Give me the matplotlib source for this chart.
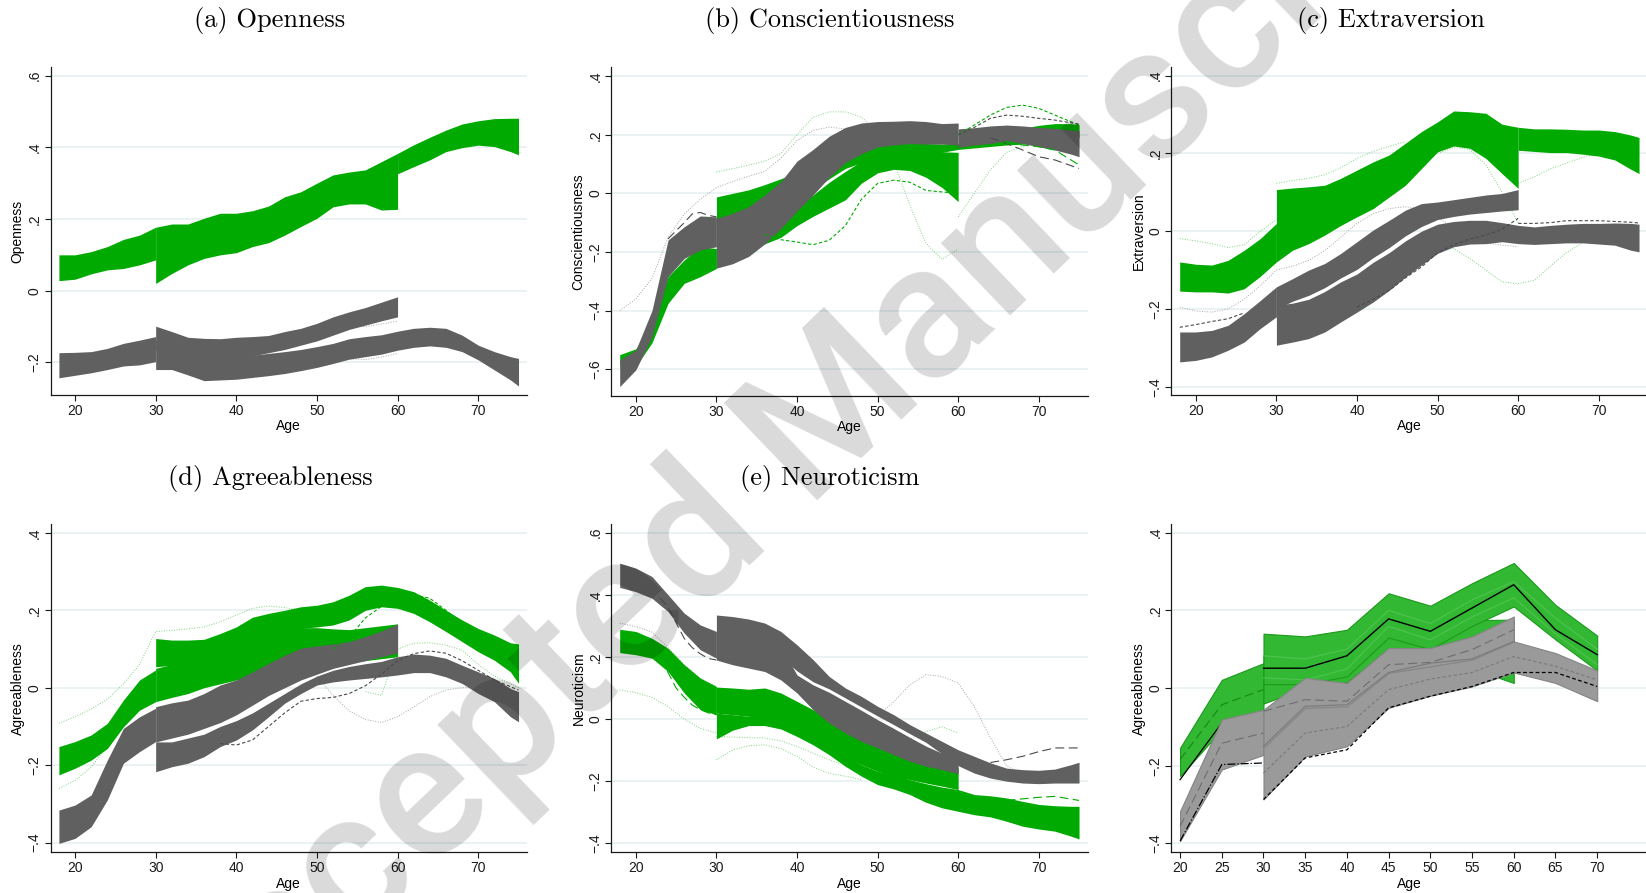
import matplotlib.pyplot as plt

# ---- age grids -------------------------------------------------------------
AGE_Y = [18, 20, 22, 24, 26, 28, 30]
AGE_M = [30, 32, 34, 36, 38, 40, 42, 44, 46, 48, 50, 52, 54, 56, 58, 60]
AGE_O = [60, 62, 64, 66, 68, 70, 72, 74, 75]
AGE_L = AGE_M + AGE_O[1:]

# ---- (a) Openness ----------------------------------------------------------
opn_green_y_hi = [0.100, 0.100, 0.109, 0.123, 0.143, 0.155, 0.177]
opn_green_y_lo = [0.028, 0.032, 0.047, 0.058, 0.062, 0.072, 0.086]
opn_green_m_hi = [0.177, 0.186, 0.186, 0.202, 0.216, 0.216, 0.223, 0.236, 0.262, 0.276, 0.300, 0.323, 0.331, 0.337, 0.360, 0.383]
opn_green_m_lo = [0.020, 0.048, 0.072, 0.090, 0.100, 0.106, 0.123, 0.134, 0.155, 0.179, 0.202, 0.234, 0.242, 0.242, 0.225, 0.227]
opn_green_o_hi = [0.383, 0.407, 0.428, 0.448, 0.465, 0.474, 0.480, 0.481, 0.481]
opn_green_o_lo = [0.326, 0.346, 0.365, 0.388, 0.399, 0.406, 0.402, 0.388, 0.379]
opn_gray_y_hi = [-0.173, -0.172, -0.170, -0.161, -0.147, -0.138, -0.128]
opn_gray_y_lo = [-0.243, -0.236, -0.229, -0.220, -0.210, -0.207, -0.198]
opn_gray_m_hi = [-0.099, -0.114, -0.130, -0.133, -0.134, -0.130, -0.128, -0.125, -0.114, -0.105, -0.091, -0.073, -0.059, -0.047, -0.032, -0.017]
opn_gray_m_lo = [-0.166, -0.180, -0.189, -0.193, -0.193, -0.189, -0.182, -0.173, -0.164, -0.152, -0.140, -0.124, -0.108, -0.096, -0.084, -0.073]
opn_gray_l_hi = [-0.138, -0.161, -0.180, -0.189, -0.189, -0.184, -0.180, -0.175, -0.170, -0.164, -0.156, -0.147, -0.134, -0.128, -0.123, -0.113,
                 -0.105, -0.102, -0.105, -0.124, -0.152, -0.170, -0.184, -0.189]
opn_gray_l_lo = [-0.220, -0.220, -0.235, -0.251, -0.249, -0.247, -0.242, -0.237, -0.231, -0.223, -0.214, -0.203, -0.191, -0.184, -0.177, -0.166,
                 -0.158, -0.154, -0.158, -0.170, -0.193, -0.221, -0.249, -0.266]
opn_dot_age = [52, 54, 56, 58, 60]
opn_dot_1 = [-0.095, -0.100, -0.100, -0.093, -0.085]
opn_dot_2 = [-0.185, -0.190, -0.192, -0.185, -0.175]

# ---- (b) Conscientiousness -------------------------------------------------
con_green_y_hi = [-0.550, -0.530, -0.440, -0.284, -0.227, -0.182, -0.188]
con_green_y_lo = [-0.585, -0.590, -0.510, -0.375, -0.307, -0.284, -0.256]
con_gray_y_hi = [-0.568, -0.534, -0.400, -0.159, -0.114, -0.077, -0.080]
con_gray_y_lo = [-0.659, -0.602, -0.489, -0.284, -0.222, -0.193, -0.182]
con_green_m_hi = [-0.130, -0.120, -0.110, -0.090, -0.070, -0.045, -0.005, 0.038, 0.075, 0.110, 0.130, 0.140, 0.145, 0.145, 0.142, 0.140]
con_green_m_lo = [-0.220, -0.200, -0.185, -0.172, -0.150, -0.110, -0.078, -0.050, -0.022, 0.035, 0.070, 0.082, 0.078, 0.055, 0.020, -0.028]
con_green_l_hi = [-0.012, 0.000, 0.012, 0.030, 0.050, 0.072, 0.098, 0.115, 0.130, 0.158, 0.170, 0.173, 0.172, 0.170, 0.168, 0.170,
                  0.178, 0.185, 0.205, 0.222, 0.232, 0.238, 0.238, 0.235]
con_green_l_lo = [-0.107, -0.090, -0.075, -0.058, -0.040, -0.015, 0.012, 0.050, 0.085, 0.105, 0.115, 0.125, 0.130, 0.135, 0.140, 0.150,
                  0.155, 0.160, 0.165, 0.168, 0.170, 0.172, 0.175, 0.190]
con_gray_m_hi = [-0.085, -0.068, -0.045, -0.005, 0.040, 0.110, 0.150, 0.195, 0.225, 0.240, 0.245, 0.246, 0.248, 0.245, 0.238, 0.240]
con_gray_m_lo = [-0.255, -0.240, -0.215, -0.172, -0.120, -0.060, -0.005, 0.055, 0.105, 0.135, 0.158, 0.165, 0.170, 0.168, 0.168, 0.165]
con_gray_o_hi = [0.220, 0.224, 0.230, 0.233, 0.230, 0.225, 0.222, 0.216, 0.214]
con_gray_o_lo = [0.157, 0.165, 0.170, 0.180, 0.170, 0.159, 0.148, 0.134, 0.125]
con_kdot_age = [18, 20, 22, 24, 26, 28, 30, 33, 36, 38, 40, 42, 44, 46, 48]
con_kdot = [-0.400, -0.360, -0.290, -0.150, -0.070, -0.020, 0.020, 0.050, 0.075, 0.120, 0.180, 0.215, 0.226, 0.220, 0.200]
con_gdot_age = [30, 33, 36, 38, 40, 42, 44, 46, 48, 50, 52, 54, 56, 58, 60]
con_gdot = [0.073, 0.090, 0.110, 0.136, 0.200, 0.260, 0.278, 0.278, 0.260, 0.210, 0.110, -0.040, -0.170, -0.225, -0.190]
con_gdot2_age = [60, 62, 64, 66, 68, 70, 72, 75]
con_gdot2 = [-0.080, 0.000, 0.080, 0.140, 0.160, 0.170, 0.170, 0.160]
con_gdash_age = [36, 38, 40, 42, 44, 46, 48, 50, 52, 54, 56, 58, 60]
con_gdash = [-0.140, -0.158, -0.166, -0.175, -0.160, -0.110, -0.020, 0.034, 0.045, 0.038, 0.010, 0.005, 0.000]
con_gdash2_age = [60, 62, 64, 66, 68, 70, 72, 75]
con_gdash2 = [0.200, 0.233, 0.267, 0.293, 0.301, 0.290, 0.267, 0.233]
con_kdash2 = [0.200, 0.225, 0.256, 0.267, 0.263, 0.256, 0.250, 0.236]
con_klong_age = [64, 66, 68, 70, 72, 75]
con_klong = [0.190, 0.170, 0.148, 0.125, 0.114, 0.085]
con_glong_age = [66, 68, 70, 72, 75]
con_glong = [0.170, 0.165, 0.159, 0.148, 0.097]
con_klong0_age = [24, 26, 27, 28, 29, 30]
con_klong0 = [-0.155, -0.100, -0.070, -0.065, -0.075, -0.080]

# ---- (c) Extraversion ------------------------------------------------------
ext_green_y_hi = [-0.079, -0.085, -0.087, -0.075, -0.049, -0.019, 0.020]
ext_green_y_lo = [-0.154, -0.156, -0.156, -0.159, -0.148, -0.116, -0.079]
ext_green_m_hi = [0.107, 0.111, 0.114, 0.118, 0.136, 0.157, 0.178, 0.196, 0.226, 0.256, 0.281, 0.309, 0.307, 0.303, 0.275, 0.267]
ext_green_m_lo = [-0.079, -0.049, -0.032, -0.010, 0.015, 0.037, 0.058, 0.088, 0.118, 0.161, 0.204, 0.219, 0.213, 0.187, 0.148, 0.110]
ext_green_o_hi = [0.267, 0.263, 0.263, 0.262, 0.260, 0.260, 0.256, 0.247, 0.241]
ext_green_o_lo = [0.208, 0.205, 0.202, 0.202, 0.198, 0.193, 0.183, 0.159, 0.148]
ext_gray_y_hi = [-0.259, -0.259, -0.255, -0.242, -0.212, -0.178, -0.143]
ext_gray_y_lo = [-0.336, -0.332, -0.323, -0.306, -0.285, -0.250, -0.220]
ext_gray_m_hi = [-0.143, -0.122, -0.100, -0.083, -0.057, -0.027, 0.003, 0.028, 0.054, 0.071, 0.075, 0.081, 0.087, 0.093, 0.097, 0.107]
ext_gray_m_lo = [-0.200, -0.180, -0.165, -0.145, -0.120, -0.098, -0.068, -0.042, -0.012, 0.012, 0.030, 0.038, 0.044, 0.048, 0.052, 0.055]
ext_gray_l_hi = [-0.190, -0.185, -0.175, -0.155, -0.130, -0.110, -0.080, -0.055, -0.025, 0.000, 0.018, 0.025, 0.028, 0.028, 0.022, 0.015,
                 0.011, 0.015, 0.018, 0.020, 0.020, 0.021, 0.020, 0.018]
ext_gray_l_lo = [-0.293, -0.285, -0.276, -0.259, -0.233, -0.208, -0.182, -0.152, -0.118, -0.087, -0.057, -0.040, -0.033, -0.032, -0.027, -0.032,
                 -0.034, -0.032, -0.030, -0.030, -0.033, -0.036, -0.049, -0.053]
ext_gdot_y = [-0.019, -0.025, -0.032, -0.042, -0.035, 0.000, 0.030]
ext_gdot_m_age = [30, 32, 34, 36, 38, 40, 42, 44, 46]
ext_gdot_m = [0.123, 0.130, 0.136, 0.145, 0.163, 0.187, 0.205, 0.218, 0.230]
ext_gdot_drop_age = [50, 52, 54, 56, 58, 60]
ext_gdot_drop = [0.200, 0.215, 0.210, 0.170, 0.100, 0.020]
ext_gdot_o = [0.123, 0.140, 0.160, 0.175, 0.190, 0.200, 0.205, 0.203, 0.200]
ext_gdot_dip_age = [50, 52, 54, 56, 58, 60, 62, 64, 66, 68, 70]
ext_gdot_dip = [-0.020, -0.045, -0.070, -0.100, -0.130, -0.135, -0.126, -0.090, -0.055, -0.030, -0.019]
ext_kdot_y = [-0.195, -0.205, -0.208, -0.200, -0.175, -0.140, -0.100]
ext_kdot_m = [-0.100, -0.090, -0.075, -0.050, -0.015, 0.020, 0.045, 0.058, 0.063, 0.055, 0.035, 0.010, -0.015, -0.030, -0.036, -0.040]
ext_kdash_y_age = [18, 20, 22, 24, 26]
ext_kdash_y = [-0.247, -0.240, -0.232, -0.225, -0.210]
ext_kdash_m_age = [40, 42, 44, 46, 48, 50, 52, 54, 56, 58, 60]
ext_kdash_m = [-0.195, -0.175, -0.152, -0.120, -0.092, -0.055, -0.035, -0.020, -0.010, 0.005, 0.033]
ext_kdash_o = [0.020, 0.020, 0.022, 0.027, 0.027, 0.027, 0.025, 0.023, 0.021]

# ---- (d) Agreeableness -----------------------------------------------------
agr_green_y_hi = [-0.152, -0.139, -0.122, -0.092, -0.032, 0.020, 0.046]
agr_green_y_lo = [-0.225, -0.208, -0.187, -0.157, -0.101, -0.058, -0.036]
agr_green_l_hi = [0.127, 0.123, 0.123, 0.125, 0.140, 0.157, 0.182, 0.192, 0.200, 0.209, 0.213, 0.222, 0.239, 0.261, 0.265, 0.259,
                  0.248, 0.226, 0.200, 0.175, 0.153, 0.136, 0.116, 0.113]
agr_green_l_lo = [0.054, 0.058, 0.067, 0.076, 0.089, 0.102, 0.119, 0.132, 0.145, 0.153, 0.157, 0.162, 0.175, 0.200, 0.209, 0.205,
                  0.192, 0.170, 0.145, 0.119, 0.093, 0.071, 0.041, 0.011]
agr_green_m_hi = [0.050, 0.060, 0.070, 0.085, 0.100, 0.115, 0.130, 0.140, 0.150, 0.155, 0.155, 0.152, 0.150, 0.155, 0.160, 0.165]
agr_green_m_lo = [-0.036, -0.025, -0.015, 0.000, 0.010, 0.020, 0.030, 0.040, 0.050, 0.055, 0.060, 0.062, 0.065, 0.070, 0.075, 0.080]
agr_gray_y_hi = [-0.316, -0.303, -0.277, -0.187, -0.105, -0.075, -0.053]
agr_gray_y_lo = [-0.402, -0.389, -0.359, -0.290, -0.195, -0.165, -0.139]
agr_gray_m_hi = [-0.049, -0.039, -0.032, -0.015, 0.007, 0.020, 0.041, 0.063, 0.084, 0.102, 0.108, 0.113, 0.119, 0.132, 0.147, 0.164]
agr_gray_m_lo = [-0.140, -0.130, -0.120, -0.105, -0.090, -0.070, -0.045, -0.020, 0.000, 0.020, 0.035, 0.050, 0.060, 0.070, 0.080, 0.090]
agr_gray_l_hi = [-0.140, -0.140, -0.130, -0.120, -0.100, -0.085, -0.065, -0.040, -0.015, 0.010, 0.030, 0.045, 0.055, 0.062, 0.068, 0.080,
                 0.087, 0.084, 0.076, 0.058, 0.041, 0.024, -0.002, -0.010]
agr_gray_l_lo = [-0.217, -0.204, -0.195, -0.178, -0.152, -0.135, -0.109, -0.075, -0.040, -0.015, 0.007, 0.015, 0.020, 0.024, 0.028, 0.033,
                 0.039, 0.039, 0.028, 0.011, -0.015, -0.036, -0.075, -0.088]
agr_gdot_up_age = [18, 20, 22, 24, 26, 28, 30, 32, 34, 36, 38, 40, 42, 44, 46, 48]
agr_gdot_up = [-0.092, -0.075, -0.055, -0.030, 0.010, 0.060, 0.145, 0.148, 0.152, 0.157, 0.170, 0.188, 0.205, 0.211, 0.207, 0.200]
agr_gdot_lo_age = [18, 20, 22, 24]
agr_gdot_lo = [-0.260, -0.240, -0.205, -0.150]
agr_gdash_age = [52, 54, 56, 58, 60, 62, 64, 66, 68, 70, 72]
agr_gdash = [0.100, 0.130, 0.180, 0.210, 0.225, 0.240, 0.231, 0.200, 0.165, 0.140, 0.110]
agr_kdash_age = [38, 40, 42, 44, 46, 48, 50, 52, 54, 56, 58, 60, 62, 64, 66, 68, 70, 72, 75]
agr_kdash = [-0.144, -0.148, -0.135, -0.100, -0.065, -0.035, -0.028, -0.025, -0.015, 0.005, 0.035, 0.070, 0.088, 0.095, 0.089, 0.070, 0.045, 0.020, -0.006]
agr_kdot_age = [50, 52, 54, 56, 58, 60, 62, 64, 66, 68, 70, 72, 75]
agr_kdot = [0.030, -0.020, -0.060, -0.082, -0.090, -0.075, -0.050, -0.023, -0.006, 0.000, 0.003, -0.012, -0.020]
agr_gdot_o_age = [56, 58, 60, 62, 64, 66, 68, 70, 72, 75]
agr_gdot_o = [-0.010, -0.020, 0.100, 0.115, 0.116, 0.110, 0.097, 0.060, 0.030, 0.000]

# ---- (e) Neuroticism -------------------------------------------------------
neu_gray_y_hi = [0.502, 0.486, 0.459, 0.400, 0.341, 0.303, 0.282]
neu_gray_y_lo = [0.424, 0.410, 0.389, 0.346, 0.277, 0.223, 0.196]
neu_gray_l_hi = [0.335, 0.330, 0.322, 0.309, 0.282, 0.239, 0.191, 0.137, 0.100, 0.073, 0.041, 0.014, -0.018, -0.045, -0.072, -0.099,
                 -0.120, -0.141, -0.158, -0.163, -0.165, -0.161, -0.147, -0.139]
neu_gray_l_lo = [0.255, 0.250, 0.245, 0.234, 0.200, 0.155, 0.120, 0.097, 0.068, 0.039, 0.010, -0.018, -0.047, -0.075, -0.112, -0.150,
                 -0.174, -0.190, -0.200, -0.206, -0.208, -0.206, -0.206, -0.206]
neu_gray_m_hi = [0.280, 0.277, 0.266, 0.255, 0.234, 0.142, 0.110, 0.086, 0.057, 0.028, -0.002, -0.030, -0.059, -0.087, -0.110, -0.130]
neu_gray_m_lo = [0.190, 0.175, 0.164, 0.153, 0.126, 0.084, 0.030, -0.013, -0.045, -0.072, -0.093, -0.115, -0.136, -0.152, -0.163, -0.176]
neu_green_y_hi = [0.289, 0.282, 0.260, 0.228, 0.175, 0.132, 0.105]
neu_green_y_lo = [0.214, 0.207, 0.196, 0.153, 0.084, 0.030, 0.014]
neu_green_m_hi = [0.103, 0.100, 0.096, 0.100, 0.084, 0.057, 0.030, 0.003, -0.024, -0.056, -0.088, -0.104, -0.115, -0.125, -0.141, -0.157]
neu_green_m_lo = [0.019, 0.014, 0.009, 0.000, -0.013, -0.040, -0.066, -0.093, -0.120, -0.147, -0.168, -0.184, -0.195, -0.206, -0.216, -0.227]
neu_green_l_hi = [0.019, 0.014, 0.009, 0.006, -0.004, -0.029, -0.056, -0.083, -0.115, -0.147, -0.168, -0.179, -0.195, -0.208, -0.219, -0.227,
                  -0.243, -0.247, -0.254, -0.265, -0.275, -0.279, -0.281, -0.281]
neu_green_l_lo = [-0.064, -0.036, -0.021, -0.021, -0.032, -0.056, -0.083, -0.115, -0.152, -0.184, -0.211, -0.225, -0.243, -0.268, -0.286, -0.297,
                  -0.308, -0.315, -0.329, -0.345, -0.354, -0.361, -0.377, -0.386]
neu_long_age = [23, 24, 25, 26, 27, 28, 29, 30]
neu_klong = [0.390, 0.360, 0.310, 0.260, 0.230, 0.210, 0.195, 0.190]
neu_glong = [0.190, 0.150, 0.100, 0.070, 0.045, 0.030, 0.020, 0.014]
neu_kdot_y = [0.309, 0.298, 0.280, 0.230, 0.175, 0.130, 0.105]
neu_gdot_y = [0.094, 0.085, 0.070, 0.040, 0.000, -0.030, -0.045]
neu_gdot_m_age = [30, 32, 34, 36, 38, 40, 42, 44, 46, 48]
neu_gdot_m1 = [-0.131, -0.100, -0.086, -0.083, -0.095, -0.120, -0.155, -0.175, -0.184, -0.195]
neu_gdot_m2 = [-0.056, -0.058, -0.060, -0.061, -0.070, -0.088, -0.110, -0.131, -0.150, -0.163]
neu_kdot_hump_age = [50, 52, 54, 56, 58, 60, 62, 64, 66, 68, 70, 72, 75]
neu_kdot_hump = [0.010, 0.055, 0.110, 0.143, 0.137, 0.116, 0.040, -0.060, -0.150, -0.180, -0.190, -0.180, -0.150]
neu_gdot_hump_age = [50, 52, 54, 56, 58, 60]
neu_gdot_hump = [-0.120, -0.090, -0.065, -0.040, -0.025, -0.045]
neu_klong_o_age = [64, 66, 68, 70, 72, 75]
neu_klong_o = [-0.140, -0.131, -0.120, -0.105, -0.093, -0.093]
neu_glong_o_age = [66, 68, 70, 72, 75]
neu_glong_o = [-0.262, -0.257, -0.252, -0.249, -0.262]

# ---- (f) Agreeableness, 5-year groups --------------------------------------
F_AGE_Y = [20, 25, 30]
F_AGE_M = [30, 35, 40, 45, 50, 55, 60]
F_AGE_L = [30, 35, 40, 45, 50, 55, 60, 65, 70]
F_XTICKS = [20, 25, 30, 35, 40, 45, 50, 55, 60, 65, 70]
f_green_y_hi = [-0.154, 0.021, 0.064]
f_green_y_lo = [-0.227, -0.107, -0.072]
f_green_l_hi = [0.140, 0.133, 0.150, 0.244, 0.212, 0.270, 0.322, 0.214, 0.135]
f_green_l_lo = [0.010, 0.010, 0.030, 0.130, 0.100, 0.160, 0.210, 0.125, 0.045]
f_green_m_hi = [0.083, 0.070, 0.090, 0.155, 0.115, 0.175, 0.176]
f_green_m_lo = [-0.040, 0.000, 0.015, 0.100, 0.090, 0.050, 0.013]
f_gray_y_hi = [-0.317, -0.081, -0.056]
f_gray_y_lo = [-0.394, -0.210, -0.172]
f_gray_m_hi = [-0.056, 0.026, 0.013, 0.103, 0.103, 0.133, 0.184]
f_gray_m_lo = [-0.154, -0.051, -0.047, 0.039, 0.056, 0.073, 0.120]
f_gray_l_hi = [-0.150, -0.047, -0.043, 0.040, 0.056, 0.075, 0.120, 0.090, 0.045]
f_gray_l_lo = [-0.287, -0.176, -0.150, -0.051, -0.020, 0.004, 0.040, 0.013, -0.034]
f_black_l = [0.051, 0.051, 0.083, 0.178, 0.146, 0.206, 0.266, 0.150, 0.086]
f_black_y = [-0.236, -0.090, -0.070]
f_black_dashdot_y = [-0.394, -0.197, -0.193]
f_black_dot_l = [-0.287, -0.180, -0.159, -0.051, -0.021, 0.004, 0.040, 0.040, 0.004]
f_green_long_y = [-0.184, -0.043, -0.004]
f_green_in_up = [0.083, 0.075, 0.100, 0.200, 0.166, 0.227, 0.274, 0.180, 0.100]
f_green_in_lo = [0.026, 0.021, 0.049, 0.159, 0.124, 0.183, 0.232, 0.140, 0.060]
f_gray_long_y = [-0.356, -0.142, -0.116]
f_gray_long_m = [-0.060, -0.030, -0.034, 0.060, 0.066, 0.099, 0.150]
f_gray_solid_m = [-0.150, -0.047, -0.043, 0.040, 0.064, 0.075, 0.120]
f_gray_dash_l = [-0.219, -0.116, -0.099, -0.004, 0.023, 0.040, 0.081, 0.056, 0.021]

# ---- styles ----------------------------------------------------------------
GREEN = '#00aa00'
GRAY = '#606060'
LGREEN = '#7fd37f'
LGRAY = '#a6a6a6'
DGRAY = '#4a4a4a'
GRID = '#e6eff0'
F_GREEN = '#33b833'
F_GREEN_EDGE = '#1c9a1c'
F_GRAY = '#9a9a9a'
F_GRAY_EDGE = '#858585'
SANS = ['Liberation Sans', 'DejaVu Sans']
DOT = (0, (1, 1.6))
SDASH = (0, (3, 2))
LDASH = (0, (8, 4))

W, H = 1646, 893
fig = plt.figure(figsize=(W / 100, H / 100), dpi=100)


def tick_txt(v):
    if abs(v) < 1e-9:
        return '0'
    s = ('%.1f' % abs(v)).lstrip('0')
    return ('\u2212' if v < 0 else '') + s


def make_ax(left, top, right, bottom, xlim, ylim, yticks, ylabel, xticks=(20, 30, 40, 50, 60, 70)):
    ax = fig.add_axes([left / W, 1 - bottom / H, (right - left) / W, (bottom - top) / H])
    ax.set_xlim(*xlim)
    ax.set_ylim(*ylim)
    ax.set_yticks(yticks)
    ax.set_yticklabels([tick_txt(v) for v in yticks], rotation=90, va='center', family=SANS)
    ax.set_xticks(xticks)
    ax.set_xticklabels([str(v) for v in xticks], family=SANS)
    ax.yaxis.grid(True, color=GRID, lw=1.1)
    ax.set_axisbelow(True)
    for s in ['top', 'right']:
        ax.spines[s].set_visible(False)
    for s in ['left', 'bottom']:
        ax.spines[s].set_linewidth(0.9)
        ax.spines[s].set_color('#1a1a1a')
    ax.tick_params(direction='out', length=4, width=0.8, labelsize=10, pad=2.5, colors='#1a1a1a')
    ax.set_ylabel(ylabel, fontsize=10, family=SANS, labelpad=2)
    ax.set_xlabel('Age', fontsize=10, family=SANS, labelpad=1)
    return ax


def band(ax, x, lo, hi, color=GREEN, z=2):
    ax.fill_between(x, lo, hi, color=color, lw=0, zorder=z)


def line(ax, x, y, color, ls, lw=0.8, z=5):
    ax.plot(x, y, color=color, ls=ls, lw=lw, zorder=z)


XL = (16.97, 76.05)

# (a) Openness
ax = make_ax(50.6, 67, 527, 395, XL, (-0.291, 0.624), [-0.2, 0, 0.2, 0.4, 0.6], 'Openness')
band(ax, AGE_Y, opn_green_y_lo, opn_green_y_hi)
band(ax, AGE_M, opn_green_m_lo, opn_green_m_hi)
band(ax, AGE_O, opn_green_o_lo, opn_green_o_hi)
line(ax, opn_dot_age, opn_dot_1, LGRAY, DOT, 0.7, 1.5)
line(ax, opn_dot_age, opn_dot_2, LGRAY, DOT, 0.7, 1.5)
band(ax, AGE_Y, opn_gray_y_lo, opn_gray_y_hi, GRAY)
band(ax, AGE_M, opn_gray_m_lo, opn_gray_m_hi, GRAY)
band(ax, AGE_L, opn_gray_l_lo, opn_gray_l_hi, GRAY)

# (b) Conscientiousness
ax = make_ax(611.4, 67.3, 1087.5, 395.7, XL, (-0.69, 0.43), [-0.6, -0.4, -0.2, 0, 0.2, 0.4], 'Conscientiousness')
line(ax, con_kdot_age, con_kdot, LGRAY, DOT, 0.7, 1.5)
line(ax, con_gdot_age, con_gdot, LGREEN, DOT, 0.7, 1.5)
line(ax, con_gdot2_age, con_gdot2, LGREEN, DOT, 0.7, 1.5)
band(ax, AGE_Y, con_green_y_lo, con_green_y_hi)
band(ax, AGE_Y, con_gray_y_lo, con_gray_y_hi, GRAY)
band(ax, AGE_M, con_green_m_lo, con_green_m_hi)
band(ax, AGE_L, con_green_l_lo, con_green_l_hi)
band(ax, AGE_M, con_gray_m_lo, con_gray_m_hi, GRAY)
band(ax, AGE_O, con_gray_o_lo, con_gray_o_hi, GRAY)
line(ax, con_gdash_age, con_gdash, GREEN, SDASH)
line(ax, con_gdash2_age, con_gdash2, GREEN, SDASH)
line(ax, con_gdash2_age, con_kdash2, DGRAY, SDASH)
line(ax, con_klong_age, con_klong, DGRAY, LDASH)
line(ax, con_glong_age, con_glong, GREEN, LDASH)
line(ax, con_klong0_age, con_klong0, DGRAY, LDASH)

# (c) Extraversion
ax = make_ax(1171.4, 67, 1647.5, 395, XL, (-0.421, 0.422), [-0.4, -0.2, 0, 0.2, 0.4], 'Extraversion')
line(ax, AGE_Y, ext_gdot_y, LGREEN, DOT, 0.7, 1.5)
line(ax, ext_gdot_m_age, ext_gdot_m, LGREEN, DOT, 0.7, 1.5)
line(ax, ext_gdot_drop_age, ext_gdot_drop, LGREEN, DOT, 0.7, 1.5)
line(ax, AGE_O, ext_gdot_o, LGREEN, DOT, 0.7, 1.5)
line(ax, ext_gdot_dip_age, ext_gdot_dip, LGREEN, DOT, 0.7, 1.5)
line(ax, AGE_Y, ext_kdot_y, LGRAY, DOT, 0.7, 1.5)
line(ax, AGE_M, ext_kdot_m, LGRAY, DOT, 0.7, 1.5)
band(ax, AGE_Y, ext_green_y_lo, ext_green_y_hi)
band(ax, AGE_M, ext_green_m_lo, ext_green_m_hi)
band(ax, AGE_O, ext_green_o_lo, ext_green_o_hi)
band(ax, AGE_Y, ext_gray_y_lo, ext_gray_y_hi, GRAY)
band(ax, AGE_M, ext_gray_m_lo, ext_gray_m_hi, GRAY)
band(ax, AGE_L, ext_gray_l_lo, ext_gray_l_hi, GRAY)
line(ax, ext_kdash_y_age, ext_kdash_y, DGRAY, SDASH)
line(ax, ext_kdash_m_age, ext_kdash_m, DGRAY, SDASH)
line(ax, AGE_O, ext_kdash_o, DGRAY, SDASH)

# (d) Agreeableness
ax = make_ax(50.6, 524.3, 527, 852.3, XL, (-0.425, 0.422), [-0.4, -0.2, 0, 0.2, 0.4], 'Agreeableness')
line(ax, agr_gdot_up_age, agr_gdot_up, LGREEN, DOT, 0.7, 1.5)
line(ax, agr_gdot_lo_age, agr_gdot_lo, LGREEN, DOT, 0.7, 1.5)
line(ax, agr_kdot_age, agr_kdot, LGRAY, DOT, 0.7, 1.5)
line(ax, agr_gdot_o_age, agr_gdot_o, LGREEN, DOT, 0.7, 1.5)
band(ax, AGE_Y, agr_green_y_lo, agr_green_y_hi)
band(ax, AGE_Y, agr_gray_y_lo, agr_gray_y_hi, GRAY)
band(ax, AGE_L, agr_green_l_lo, agr_green_l_hi)
band(ax, AGE_M, agr_green_m_lo, agr_green_m_hi)
band(ax, AGE_L, agr_gray_l_lo, agr_gray_l_hi, GRAY)
band(ax, AGE_M, agr_gray_m_lo, agr_gray_m_hi, GRAY)
line(ax, agr_gdash_age, agr_gdash, GREEN, SDASH)
line(ax, agr_kdash_age, agr_kdash, DGRAY, SDASH)

# (e) Neuroticism
ax = make_ax(611.4, 524.3, 1087.5, 852.3, XL, (-0.429, 0.627), [-0.4, -0.2, 0, 0.2, 0.4, 0.6], 'Neuroticism')
line(ax, AGE_Y, neu_kdot_y, LGRAY, DOT, 0.7, 1.5)
line(ax, AGE_Y, neu_gdot_y, LGREEN, DOT, 0.7, 1.5)
line(ax, neu_gdot_m_age, neu_gdot_m1, LGREEN, DOT, 0.7, 1.5)
line(ax, neu_gdot_m_age, neu_gdot_m2, LGREEN, DOT, 0.7, 1.5)
line(ax, neu_kdot_hump_age, neu_kdot_hump, LGRAY, DOT, 0.7, 1.5)
line(ax, neu_gdot_hump_age, neu_gdot_hump, LGREEN, DOT, 0.7, 1.5)
band(ax, AGE_Y, neu_green_y_lo, neu_green_y_hi)
band(ax, AGE_M, neu_green_m_lo, neu_green_m_hi)
band(ax, AGE_L, neu_green_l_lo, neu_green_l_hi)
band(ax, AGE_Y, neu_gray_y_lo, neu_gray_y_hi, GRAY)
band(ax, AGE_M, neu_gray_m_lo, neu_gray_m_hi, GRAY)
band(ax, AGE_L, neu_gray_l_lo, neu_gray_l_hi, GRAY)
line(ax, neu_long_age, neu_klong, DGRAY, LDASH)
line(ax, neu_long_age, neu_glong, GREEN, LDASH)
line(ax, neu_klong_o_age, neu_klong_o, DGRAY, LDASH)
line(ax, neu_glong_o_age, neu_glong_o, GREEN, LDASH)

# (f) Agreeableness by 5-year age group
ax = make_ax(1171.4, 524.3, 1647.5, 852.3, (18.96, 76.03), (-0.423, 0.4216), [-0.4, -0.2, 0, 0.2, 0.4],
             'Agreeableness', xticks=F_XTICKS)
ax.fill_between(F_AGE_Y, f_green_y_lo, f_green_y_hi, color=F_GREEN, ec=F_GREEN_EDGE, lw=0.8, zorder=2)
ax.fill_between(F_AGE_M, f_green_m_lo, f_green_m_hi, color=F_GREEN, ec=F_GREEN_EDGE, lw=0.8, zorder=2)
ax.fill_between(F_AGE_L, f_green_l_lo, f_green_l_hi, color=F_GREEN, ec=F_GREEN_EDGE, lw=0.8, zorder=2)
line(ax, F_AGE_L, f_green_in_up, '#4fc44f', '-', 0.8, 2.5)
line(ax, F_AGE_L, f_green_in_lo, '#4fc44f', '-', 0.8, 2.5)
line(ax, F_AGE_Y, f_green_long_y, '#138a13', LDASH, 0.8, 2.5)
line(ax, F_AGE_Y, f_black_y, 'black', '-', 0.9, 2.5)
ax.fill_between(F_AGE_Y, f_gray_y_lo, f_gray_y_hi, color=F_GRAY, ec=F_GRAY_EDGE, lw=0.8, zorder=3)
ax.fill_between(F_AGE_L, f_gray_l_lo, f_gray_l_hi, color=F_GRAY, ec=F_GRAY_EDGE, lw=0.8, zorder=3)
ax.fill_between(F_AGE_M, f_gray_m_lo, f_gray_m_hi, color=F_GRAY, ec=F_GRAY_EDGE, lw=0.8, zorder=3)
line(ax, F_AGE_Y, f_gray_long_y, '#6e6e6e', LDASH, 0.8, 4)
line(ax, F_AGE_M, f_gray_long_m, '#6e6e6e', LDASH, 0.8, 4)
line(ax, F_AGE_M, f_gray_solid_m, '#7a7a7a', '-', 0.8, 4)
line(ax, F_AGE_L, f_gray_dash_l, '#7a7a7a', SDASH, 0.8, 4)
line(ax, F_AGE_L, f_black_l, 'black', '-', 1.0, 5)
line(ax, F_AGE_Y, f_black_dashdot_y, 'black', '-.', 0.9, 5)
line(ax, F_AGE_L, f_black_dot_l, 'black', SDASH, 0.9, 5)

# panel titles
TITLE_FONT = ['cmr10', 'DejaVu Serif']
for x, y, t in [(270, 21, '(a) Openness'), (830, 21, '(b) Conscientiousness'), (1391, 21, '(c) Extraversion'),
                (270, 479, '(d) Agreeableness'), (830, 479, '(e) Neuroticism')]:
    fig.text(x / W, 1 - y / H, t, ha='center', va='center', fontsize=19, family=TITLE_FONT)

# watermark
fig.text(812 / W, 1 - 434 / H, 'Accepted Manuscript', rotation=43.8, rotation_mode='anchor',
         ha='center', va='center', fontsize=137, fontweight='medium', family=['Roboto', 'Liberation Sans'],
         color='black', alpha=0.15, zorder=50)

fig.savefig('out.png', dpi=100)
